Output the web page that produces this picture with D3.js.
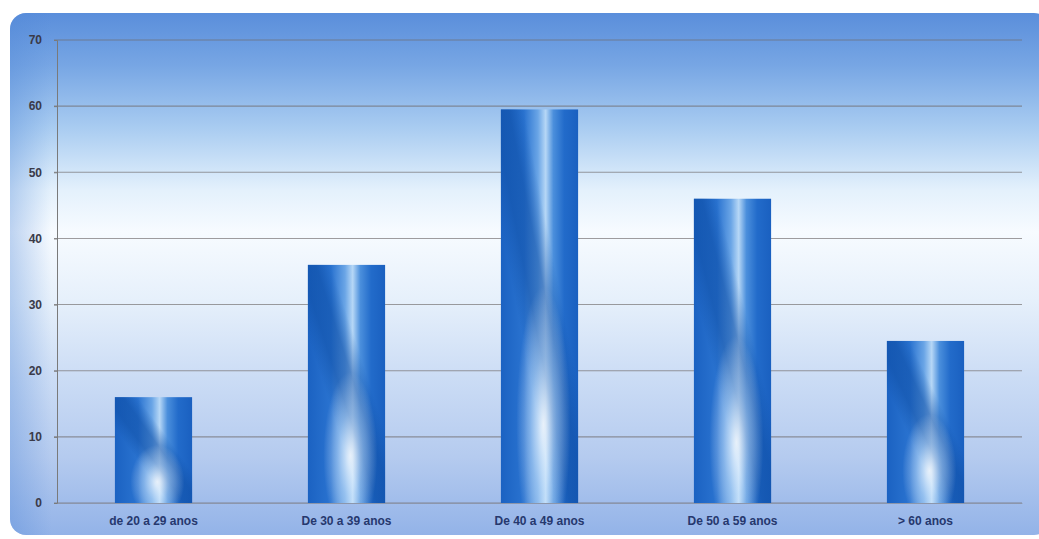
<!DOCTYPE html>
<html>
<head>
<meta charset="utf-8">
<script src="https://cdn.jsdelivr.net/npm/d3@7/dist/d3.min.js"></script>
<style>
  html, body { margin: 0; padding: 0; background: #fff; }
  svg { display: block; }
</style>
</head>
<body>
<div id="chart"></div>
<script>
// data
var categories = ['de 20 a 29 anos', 'De 30 a 39 anos', 'De 40 a 49 anos', 'De 50 a 59 anos', '> 60 anos'];
var values = [16, 36, 59.5, 46, 24.5];
var yTicks = [0, 10, 20, 30, 40, 50, 60, 70];

var W = 1039, H = 539;
var plotLeft = 57, plotRight = 1022, plotTop = 40, plotBottom = 503;

var svg = d3.select('#chart').append('svg')
    .attr('width', W)
    .attr('height', H);

var defs = svg.append('defs');

// panel background: blue at top, white in the middle, blue again at the bottom
var bg = defs.append('linearGradient').attr('id', 'bg')
    .attr('x1', 0).attr('y1', 0).attr('x2', 0).attr('y2', 1);
[[0, '#5a8edb'], [0.1, '#77a6e4'], [0.22, '#a9ccf1'], [0.34, '#e4f1fc'],
 [0.42, '#f7fbff'], [0.55, '#e6f0fb'], [0.7, '#cbdcf5'], [0.85, '#b5cbef'], [1, '#93b3e8']]
  .forEach(function(s) { bg.append('stop').attr('offset', s[0]).attr('stop-color', s[1]); });

// slight darkening at the left edge
var bgSide = defs.append('linearGradient').attr('id', 'bgSide')
    .attr('x1', 0).attr('y1', 0).attr('x2', 1).attr('y2', 0);
bgSide.append('stop').attr('offset', 0).attr('stop-color', '#4f86d6').attr('stop-opacity', 0.35);
bgSide.append('stop').attr('offset', 0.04).attr('stop-color', '#4f86d6').attr('stop-opacity', 0);
bgSide.append('stop').attr('offset', 1).attr('stop-color', '#4f86d6').attr('stop-opacity', 0);

// bar texture approximation
var barG = defs.append('linearGradient').attr('id', 'barBase')
    .attr('x1', 0).attr('y1', 0).attr('x2', 1).attr('y2', 0);
[[0, '#1b62c2'], [0.3, '#2a73d0'], [0.48, '#6aa5e6'], [0.58, '#b6d7f6'], [0.68, '#4b8fdc'], [0.82, '#226bca'], [1, '#1a60c0']]
  .forEach(function(s) { barG.append('stop').attr('offset', s[0]).attr('stop-color', s[1]); });

var barDiag = defs.append('linearGradient').attr('id', 'barDiag')
    .attr('x1', 0).attr('y1', 1).attr('x2', 1).attr('y2', 0);
[[0, 0], [0.35, 0], [0.45, 0.55], [0.55, 0.55], [0.65, 0], [1, 0]]
  .forEach(function(s) {
    barDiag.append('stop').attr('offset', s[0]).attr('stop-color', '#0f4fa6').attr('stop-opacity', s[1]);
  });

var barGlow = defs.append('radialGradient').attr('id', 'barGlow')
    .attr('cx', 0.55).attr('cy', 0.8).attr('r', 0.35);
barGlow.append('stop').attr('offset', 0).attr('stop-color', '#ffffff').attr('stop-opacity', 0.8);
barGlow.append('stop').attr('offset', 0.5).attr('stop-color', '#d8ecff').attr('stop-opacity', 0.4);
barGlow.append('stop').attr('offset', 1).attr('stop-color', '#ffffff').attr('stop-opacity', 0);

// panel
svg.append('rect')
    .attr('x', 10).attr('y', 13).attr('width', 1040).attr('height', 522)
    .attr('rx', 16)
    .attr('fill', 'url(#bg)');
svg.append('rect')
    .attr('x', 10).attr('y', 13).attr('width', 1040).attr('height', 522)
    .attr('rx', 16)
    .attr('fill', 'url(#bgSide)');

var x = d3.scaleBand()
    .domain(categories)
    .range([plotLeft, plotRight])
    .paddingInner(0.6)
    .paddingOuter(0.3);

var y = d3.scaleLinear()
    .domain([0, 70])
    .range([plotBottom, plotTop]);

// grid lines
svg.append('g').selectAll('line')
    .data(yTicks)
    .enter()
    .append('line')
    .attr('x1', plotLeft - 3)
    .attr('x2', plotRight)
    .attr('y1', function(d) { return y(d); })
    .attr('y2', function(d) { return y(d); })
    .attr('stroke', '#6f6a6a')
    .attr('stroke-opacity', 0.65)
    .attr('stroke-width', 1.1);

// y axis
var yAxis = svg.append('g')
    .attr('transform', 'translate(' + plotLeft + ',0)')
    .call(d3.axisLeft(y).tickValues(yTicks).tickSize(3).tickPadding(12));
yAxis.select('.domain').attr('stroke', '#7a7a7a');
yAxis.selectAll('.tick line').attr('stroke', '#7a7a7a');
yAxis.selectAll('text')
    .attr('font-family', 'Liberation Sans, Arial, sans-serif')
    .attr('font-size', 12)
    .attr('font-weight', 'bold')
    .attr('fill', '#3a3a48');

// bars
var bars = svg.append('g').selectAll('g')
    .data(values)
    .enter()
    .append('g');

['url(#barBase)', 'url(#barDiag)', 'url(#barGlow)'].forEach(function(f) {
  bars.append('rect')
      .attr('x', function(d, i) { return x(categories[i]); })
      .attr('y', function(d) { return y(d); })
      .attr('width', x.bandwidth())
      .attr('height', function(d) { return y(0) - y(d); })
      .attr('fill', f);
});

// x labels
var xAxis = svg.append('g')
    .attr('transform', 'translate(0,' + plotBottom + ')')
    .call(d3.axisBottom(x).tickSize(0).tickPadding(13));
xAxis.select('.domain').attr('stroke', '#8b8f9c').attr('stroke-opacity', 0.6);
xAxis.selectAll('text')
    .attr('font-family', 'Liberation Sans, Arial, sans-serif')
    .attr('font-size', 12)
    .attr('font-weight', 'bold')
    .attr('fill', '#26386e');
</script>
</body>
</html>
